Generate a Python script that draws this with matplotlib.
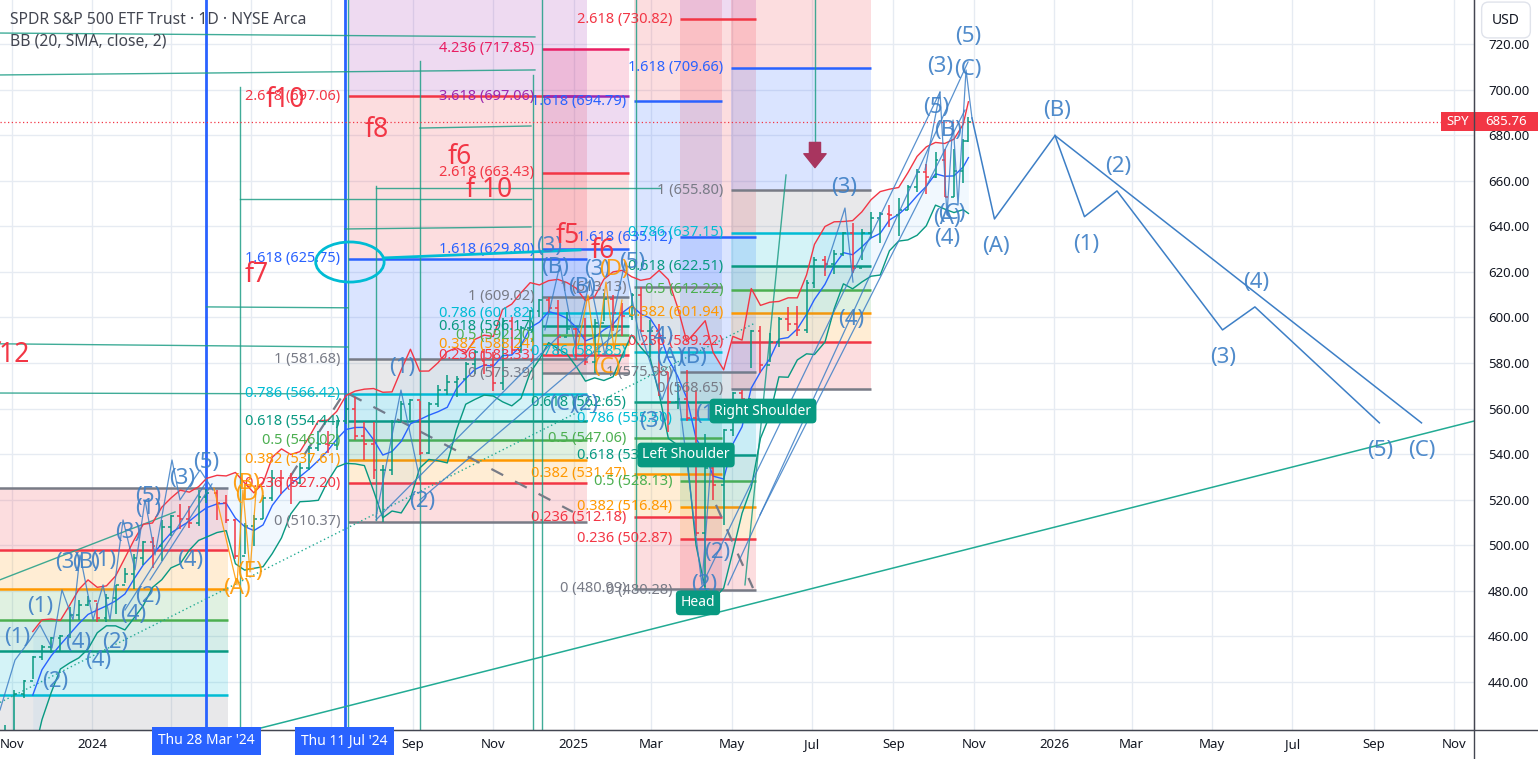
import matplotlib
matplotlib.use('Agg')
import matplotlib.pyplot as plt
import matplotlib.dates as mdates
from matplotlib.patches import Ellipse, Rectangle
import numpy as np
import pandas as pd

plt.rcParams['font.family'] = ['Noto Sans', 'DejaVu Sans']

# ---------------- price data (weekly) ----------------
week_dates = ['2023-10-27','2023-11-03','2023-11-10','2023-11-17','2023-11-24','2023-12-01','2023-12-08',
 '2023-12-15','2023-12-22','2023-12-29','2024-01-05','2024-01-12','2024-01-19','2024-01-26','2024-02-02',
 '2024-02-09','2024-02-16','2024-02-23','2024-03-01','2024-03-08','2024-03-15','2024-03-22','2024-03-28',
 '2024-04-05','2024-04-12','2024-04-19','2024-04-26','2024-05-03','2024-05-10','2024-05-17','2024-05-24',
 '2024-05-31','2024-06-07','2024-06-14','2024-06-21','2024-06-28','2024-07-05','2024-07-12','2024-07-19',
 '2024-07-26','2024-08-02','2024-08-09','2024-08-16','2024-08-23','2024-08-30','2024-09-06','2024-09-13',
 '2024-09-20','2024-09-27','2024-10-04','2024-10-11','2024-10-18','2024-10-25','2024-11-01','2024-11-08',
 '2024-11-15','2024-11-22','2024-11-29','2024-12-06','2024-12-13','2024-12-20','2024-12-27','2025-01-03',
 '2025-01-10','2025-01-17','2025-01-24','2025-01-31','2025-02-07','2025-02-14','2025-02-21','2025-02-28',
 '2025-03-07','2025-03-14','2025-03-21','2025-03-28','2025-04-04','2025-04-11','2025-04-17','2025-04-25',
 '2025-05-02','2025-05-09','2025-05-16','2025-05-23','2025-05-30','2025-06-06','2025-06-13','2025-06-20',
 '2025-06-27','2025-07-03','2025-07-11','2025-07-18','2025-07-25','2025-08-01','2025-08-08','2025-08-15',
 '2025-08-22','2025-08-29','2025-09-05','2025-09-12','2025-09-19','2025-09-26','2025-10-03','2025-10-10',
 '2025-10-17','2025-10-24','2025-10-28']
week_close = [410.7,434.7,440.6,450.8,455.3,459.1,460.2,469.3,473.7,475.3,467.9,476.7,482.4,487.4,494.4,
 501.2,499.5,507.9,512.9,511.7,509.8,521.2,523.1,518.4,510.9,495.2,508.3,511.3,520.8,529.5,529.4,
 527.4,534.0,542.8,544.5,544.2,554.6,559.9,548.0,544.4,532.9,533.0,554.3,562.1,563.7,540.4,562.0,
 568.3,571.5,573.0,579.6,584.6,579.0,571.0,598.2,585.8,595.5,602.6,607.8,604.2,591.2,595.0,592.0,
 580.5,597.6,608.0,601.8,600.8,609.7,594.0,594.2,575.9,562.8,564.0,555.7,505.3,533.9,526.4,550.6,
 566.8,564.3,594.2,579.1,589.4,599.1,597.0,594.3,614.9,625.3,623.6,627.6,637.1,621.7,637.2,643.4,
 645.3,645.1,647.2,657.4,663.7,661.8,669.2,653.0,664.4,677.3,685.8]
week_high = [421.0,436.3,440.9,451.4,456.4,459.6,460.7,473.0,475.9,477.6,474.6,478.6,482.7,490.0,496.0,
 502.0,503.5,511.0,513.3,518.2,517.3,524.1,524.6,524.4,522.0,511.7,509.9,513.3,522.2,533.1,533.1,
 531.5,536.0,543.4,550.3,550.3,555.0,564.7,565.2,554.1,554.0,535.0,555.0,563.2,564.2,563.2,563.0,
 570.4,574.7,574.1,580.3,585.8,586.1,584.6,599.6,600.2,596.1,603.4,608.0,609.1,607.8,602.5,595.4,
 599.8,599.4,610.8,610.0,606.4,610.5,613.2,599.0,597.3,576.0,570.9,577.0,568.0,548.6,539.7,551.0,
 567.3,568.2,594.5,596.1,593.0,600.0,604.5,605.0,616.4,626.3,626.9,629.5,637.6,641.5,638.6,646.2,
 646.3,649.5,652.2,658.0,665.0,667.3,672.7,673.9,673.9,678.4,688.0]
week_low = [409.2,416.3,433.0,441.4,449.8,452.8,453.6,459.4,467.1,473.2,466.4,466.4,469.7,483.3,481.0,
 491.4,490.2,493.0,504.0,507.0,507.4,508.5,518.4,511.0,509.7,493.9,496.0,499.6,511.3,519.5,522.7,
 518.3,526.8,532.8,541.5,540.6,541.6,553.0,546.3,537.5,529.0,510.3,531.0,553.9,555.0,539.5,540.0,
 560.8,566.0,564.9,567.0,575.0,575.0,567.9,568.1,583.8,584.5,594.0,600.2,602.0,583.0,592.7,581.5,
 578.9,575.4,598.4,594.0,592.0,599.0,593.7,582.4,565.6,549.7,559.8,554.7,504.0,481.8,520.0,509.0,
 548.0,557.0,578.0,575.6,580.5,586.9,594.0,591.9,593.0,613.0,618.1,619.0,627.0,619.3,625.0,634.7,
 632.8,639.7,635.5,647.0,655.0,654.2,661.0,652.8,653.0,659.0,677.0]
last_price = 685.76

# ---------------- axis labels ----------------
x_tick_days = [-61, 0, 60, 121, 182, 244, 305, 366, 425, 486, 547, 609, 670, 731, 790, 851, 912, 974, 1035]
x_tick_labels = ['Nov', '2024', '', '', '', 'Sep', 'Nov', '2025', 'Mar', 'May', 'Jul', 'Sep', 'Nov',
                 '2026', 'Mar', 'May', 'Jul', 'Sep', 'Nov']
y_ticks = list(range(440, 721, 20))
marker_dates = ['2024-03-28', '2024-07-11']
marker_labels = ["Thu 28 Mar '24", "Thu 11 Jul '24"]

# ---------------- fibonacci drawings (days since 2024-01-01) ----------------
STD = [0, 0.236, 0.382, 0.5, 0.618, 0.786, 1]
fibs = [
    dict(start=-120, end=103.3, p0=525.10, p1=409.60, levels=STD, labels=False),
    dict(start=194.5, end=376.1, p0=510.37, p1=581.68, levels=STD + [1.618, 2.618, 3.618], labels=True),
    dict(start=342.0, end=408.0, p0=575.39, p1=609.02, levels=STD + [1.618, 2.618, 3.618, 4.236], labels=True),
    dict(start=411.9, end=478.7, p0=480.99, p1=613.13, levels=STD + [1.618, 2.618], labels=True),
    dict(start=446.8, end=504.6, p0=480.28, p1=575.98, levels=STD + [1.618, 2.618, 3.618], labels=True),
    dict(start=485.6, end=592.0, p0=568.65, p1=655.80, levels=STD + [1.618, 2.618], labels=True),
]
FIB_COLORS = {0: '#787b86', 0.236: '#f23645', 0.382: '#ff9800', 0.5: '#4caf50', 0.618: '#089981',
              0.786: '#00bcd4', 1: '#787b86', 1.618: '#2962ff', 2.618: '#f23645', 3.618: '#9c27b0',
              4.236: '#e91e63'}

# ---------------- Elliott-wave projection ----------------
proj_ab_days = [668.7, 685.8, 731.8]
proj_ab_prices = [687.5, 643.2, 679.8]
proj_impulse_days = [731.8, 754.2, 778.9, 859.1, 883.7, 978.3]
proj_impulse_prices = [679.8, 644.2, 655.5, 594.5, 604.6, 553.7]
proj_c_days = [731.8, 1010.3]
proj_c_prices = [679.8, 553.7]

# wave drawings on price (day, price)
wave_paths = [
    [(-69.9, 427.7), (-58.5, 449.6), (-47.1, 458.4), (-39.5, 465.0), (-30.4, 454.9), (-22.8, 480.4),
     (-14.4, 467.2), (-9.1, 495.7), (0.8, 467.2), (8.4, 482.6), (13.7, 467.2), (23.6, 511.1),
     (32.7, 489.2), (40.3, 519.9), (47.9, 495.7), (60.8, 537.4), (66.9, 519.9), (82.1, 533.0), (92.0, 524.2)],
    [(25.1, 471.6), (85.9, 526.9)],
    [(44.1, 484.8), (91.2, 526.9)],
    [(215.8, 512.4), (234.8, 568.1), (249.2, 528.6)],
    [(215.8, 511.1), (355.6, 592.3)],
    [(249.2, 519.9), (401.2, 594.5)],
    [(344.2, 594.5), (355.6, 623.0), (367.0, 588.0), (378.4, 616.4), (389.8, 583.5), (405.0, 624.3), (416.4, 590.1)],
    [(416.4, 594.5), (433.1, 563.8), (443.0, 579.1), (463.5, 482.6), (471.1, 541.8)],
    [(464.3, 483.4), (644.4, 698.9)],
    [(483.3, 482.6), (665.7, 712.1)],
    [(507.6, 513.3), (663.4, 691.0)],
    [(557.0, 620.8), (572.2, 648.0), (578.3, 615.5)],
    [(633.0, 664.7), (644.4, 698.9), (649.7, 644.9), (654.3, 686.6), (658.1, 649.3), (664.2, 708.6), (668.7, 687.5)],
]
orange_paths = [
    [(92.7, 525.1), (110.2, 482.6), (114.7, 524.2), (120.1, 488.3), (124.6, 523.4)],
    [(369.3, 587.9), (376.9, 609.8), (383.0, 581.3), (390.6, 615.5), (396.7, 585.7), (402.7, 607.6)],
]
teal_segments = [
    [(-70, 724.8), (336.6, 723.1)], [(-70, 706.4), (336.6, 708.6)],
    [(112.5, 652.0), (333.6, 652.0)], [(192.0, 638.8), (333.6, 639.7)],
    [(215.8, 656.8), (431.6, 656.8)], [(249.2, 683.1), (333.6, 684.0)],
    [(87.0, 604.6), (194.5, 604.2)], [(-70, 588.4), (194.5, 587.0)], [(-70, 566.8), (194.5, 566.4)],
    [(-70, 484.8), (63.1, 514.6)],
    [(496.2, 482.6), (527.4, 662.5)],
    [(112.5, 701.1), (112.5, 418.9)], [(194.5, 739.3), (194.5, 418.9)], [(215.8, 657.7), (215.8, 511.1)],
    [(249.2, 712.5), (249.2, 418.9)], [(335.1, 706.4), (335.1, 418.9)], [(342.0, 739.3), (342.0, 418.9)],
    [(413.4, 739.3), (413.4, 481.0)], [(549.4, 739.3), (549.4, 677.0)],
]
trend_long = [(122.3, 418.9), (1050.2, 554.5)]
trend_dotted = [(-69.9, 431.0), (503.8, 597.5)]
dashed_paths = [[(150.5, 530.0), (192.2, 567.3), (365.5, 514.6)], [(474.2, 517.7), (502.3, 481.2)]]

blue_labels = [
    ('(A)', 687.0, 630.9), ('(B)', 733.3, 691.0), ('(1)', 755.3, 631.8), ('(2)', 779.6, 666.4),
    ('(3)', 859.4, 582.6), ('(4)', 884.5, 615.5), ('(5)', 978.7, 541.4), ('(C)', 1010.6, 541.4),
    ('(5)', 665.7, 723.1), ('(3)', 644.4, 709.9), ('(C)', 665.7, 709.0), ('(5)', 641.3, 692.3),
    ('(B)', 650.5, 682.2), ('(A)', 649.7, 643.6), ('(C)', 653.5, 645.8), ('(4)', 649.7, 634.8),
    ('(3)', 571.4, 657.2), ('(4)', 576.7, 598.9),
    ('(1)', 235.6, 578.2), ('(2)', 250.8, 519.4), ('(3)', 347.3, 630.9), ('(B)', 351.8, 621.7),
    ('(3)', 383.7, 620.8), ('(5)', 410.3, 624.3), ('(B)', 372.3, 612.9), ('(C)', 357.9, 561.6),
    ('(2)', 374.6, 561.6), ('(4)', 431.6, 591.4), ('(A)', 439.2, 582.6), ('(B)', 456.7, 582.6),
    ('(3)', 425.5, 554.1), ('(1)', 468.0, 557.2), ('(2)', 474.9, 497.0), ('(2)', 465.0, 482.6),
    ('(1)', -57.0, 459.3), ('(1)', -39.5, 473.3), ('(2)', -28.1, 440.4), ('(4)', -10.6, 457.1),
    ('(4)', 4.6, 449.2), ('(2)', 17.5, 457.5), ('(4)', 31.2, 469.4), ('(2)', 42.6, 477.3),
    ('(3)', -18.2, 492.2), ('(B)', -4.6, 492.2), ('(1)', 8.4, 493.5), ('(3)', 27.4, 505.8),
    ('(1)', 42.6, 515.9), ('(5)', 42.6, 521.2), ('(3)', 68.4, 529.5), ('(5)', 86.6, 536.1),
    ('(4)', 74.5, 493.5),
]
orange_labels = [('(B)', 117.0, 527.3), ('(D)', 120.0, 522.1), ('(E)', 120.0, 488.3), ('(A)', 110.2, 480.8),
                 ('(D)', 396.7, 620.8), ('(C)', 391.3, 578.2)]
red_labels = [('f10', 146.7, 695.4), ('f8', 216.6, 682.2), ('f6', 279.6, 670.4), ('f 10', 301.7, 655.9),
              ('f5', 361.7, 635.7), ('f6', 388.3, 629.1), ('f7', 125.4, 618.6)]
pattern_labels = [('Left Shoulder', 451.4, 539.6), ('Right Shoulder', 509.9, 558.9), ('Head', 460.5, 474.7)]

# ---------------- figure ----------------
W, H = 1538, 759
fig = plt.figure(figsize=(W / 100, H / 100), dpi=100)
ax = fig.add_axes([0, 29 / H, 1474 / W, 730 / H])
BASE = mdates.datestr2num('2024-01-01')
X = lambda d: BASE + d
YMIN, YMAX = 418.9, 739.3

ax.set_xlim(X(-69.9), X(1050.2))
ax.set_ylim(YMIN, YMAX)

# grid
for d in x_tick_days:
    ax.axvline(X(d), color='#e6ebf2', lw=1, zorder=0)
for y in y_ticks:
    ax.axhline(y, color='#e6ebf2', lw=1, zorder=0)

# fibs
for f in fibs:
    x0, x1 = X(f['start']), X(f['end'])
    lv = f['levels']
    pr = [f['p0'] + r * (f['p1'] - f['p0']) for r in lv]
    for i in range(1, len(lv)):
        ax.fill_between([x0, x1], pr[i - 1], pr[i], color=FIB_COLORS[lv[i]], alpha=0.17, lw=0, zorder=1)
    for r, p in zip(lv, pr):
        ax.plot([x0, x1], [p, p], color=FIB_COLORS[r], lw=1.8, zorder=2, solid_capstyle='butt')
        if f['labels'] and YMIN + 4 < p < YMAX - 4:
            ax.text(x0 - 6, p, f"{r:g} ({p:.2f})", ha='right', va='center', color=FIB_COLORS[r],
                    fontsize=10.5, clip_on=True, zorder=6)

# marker vertical lines
for md in marker_dates:
    ax.axvline(mdates.datestr2num(md), color='#2962ff', lw=2, zorder=3)

# teal drawings
for seg in teal_segments:
    xs = [X(p[0]) for p in seg]; ys = [p[1] for p in seg]
    ax.plot(xs, ys, color='#1e9e86', lw=1.0, alpha=0.85, zorder=3)
ax.plot([X(p[0]) for p in trend_long], [p[1] for p in trend_long], color='#22ab94', lw=1.1, zorder=3)
ax.plot([X(p[0]) for p in trend_dotted], [p[1] for p in trend_dotted], color='#22ab94', lw=1.0,
        ls=(0, (1, 2)), zorder=3)
for pth in dashed_paths:
    ax.plot([X(p[0]) for p in pth], [p[1] for p in pth], color='#787b86', lw=1.6, ls=(0, (6, 6)), zorder=3)

# Bollinger bands (20-day window ~ 4 weekly bars; dispersion from the bars' high/low/close)
xd = np.array([mdates.datestr2num(d) for d in week_dates])
cl_a = np.array(week_close); hi_a = np.array(week_high); lo_a = np.array(week_low)
mid = pd.Series(cl_a).rolling(4).mean().to_numpy()
sd = np.full(len(cl_a), np.nan)
for i in range(3, len(cl_a)):
    vals = np.concatenate([hi_a[i - 3:i + 1], lo_a[i - 3:i + 1], cl_a[i - 3:i + 1]])
    sd[i] = vals.std()
up = mid + 2 * sd
lo = mid - 2 * sd
ax.fill_between(xd, lo, up, color='#2196f3', alpha=0.06, lw=0, zorder=3)
ax.plot(xd, up, color='#f23645', lw=1.0, zorder=4)
ax.plot(xd, mid, color='#2962ff', lw=1.0, zorder=4)
ax.plot(xd, lo, color='#089981', lw=1.0, zorder=4)

# OHLC bars
op_a = np.concatenate([[cl_a[0]], cl_a[:-1]])
cols = np.where(cl_a >= op_a, '#089981', '#f23645')
ax.vlines(xd, lo_a, hi_a, colors=cols, lw=1.1, zorder=5)
ax.hlines(op_a, xd - 2.2, xd, colors=cols, lw=1.1, zorder=5)
ax.hlines(cl_a, xd, xd + 2.2, colors=cols, lw=1.1, zorder=5)

# wave drawings
WAVE = '#3d7fc6'
for pth in wave_paths:
    ax.plot([X(p[0]) for p in pth], [p[1] for p in pth], color=WAVE, lw=0.9, alpha=0.85, zorder=6)
for pth in orange_paths:
    ax.plot([X(p[0]) for p in pth], [p[1] for p in pth], color='#ff9800', lw=0.9, alpha=0.85, zorder=6)
ax.plot([X(d) for d in proj_ab_days], proj_ab_prices, color=WAVE, lw=1.1, zorder=6)
ax.plot([X(d) for d in proj_impulse_days], proj_impulse_prices, color=WAVE, lw=1.1, zorder=6)
ax.plot([X(d) for d in proj_c_days], proj_c_prices, color=WAVE, lw=1.1, zorder=6)

# cyan hand-drawn loop
ax.add_patch(Ellipse((X(196), 624.3), 52, 17.6, fill=False, ec='#00bcd4', lw=2, zorder=6))
ax.plot([X(221.9), X(370.8)], [626.1, 629.6], color='#00bcd4', lw=2, zorder=6)

# arrow
ax.annotate('', xy=(X(549.4), 664.5), xytext=(X(549.4), 678.0),
            arrowprops=dict(arrowstyle='simple,head_width=1.6,head_length=1.0,tail_width=0.8',
                            fc='#a8355f', ec='#a8355f'), zorder=7)

# labels
for t, d, p in blue_labels:
    ax.text(X(d), p, t, color=WAVE, alpha=0.9, fontsize=16, ha='center', va='center', zorder=7, clip_on=True)
for t, d, p in orange_labels:
    ax.text(X(d), p, t, color='#ff9800', alpha=0.9, fontsize=16, ha='center', va='center', zorder=7)
for t, d, p in red_labels:
    ax.text(X(d), p, t, color='#f23645', fontsize=19, ha='center', va='center', zorder=7)
ax.text(X(-47.1), 583.5, 'f12', color='#f23645', fontsize=19, ha='right', va='center', zorder=7, clip_on=True)
for t, d, p in pattern_labels:
    ax.text(X(d), p, t, color='white', fontsize=10, ha='center', va='center', zorder=8,
            bbox=dict(boxstyle='round,pad=0.35,rounding_size=0.3', fc='#089981', ec='none'))

# current price line
ax.axhline(last_price, color='#f23645', lw=0.9, ls=(0, (1, 2)), zorder=6)

# axes styling
ax.set_facecolor('white')
for s in ['left', 'top']:
    ax.spines[s].set_visible(False)
ax.spines['right'].set_color('#434651')
ax.spines['bottom'].set_color('#434651')
ax.yaxis.tick_right()
ax.set_yticks(y_ticks)
ax.set_yticklabels([f"{v:.2f}" for v in y_ticks])
ax.tick_params(axis='y', length=0, pad=10, labelsize=9.5, labelcolor='#131722')
ax.set_xticks([X(d) for d in x_tick_days])
ax.set_xticklabels(x_tick_labels)
ax.tick_params(axis='x', length=0, pad=6, labelsize=9.5, labelcolor='#131722')
for lab in ax.get_xticklabels():
    if lab.get_text() in ('2024', '2025', '2026'):
        lab.set_fontweight('bold')

# figure-level lines extending axes borders
fig.add_artist(plt.Line2D([1474 / W, 1474 / W], [0, 1], color='#434651', lw=1))
fig.add_artist(plt.Line2D([0, 1], [29 / H, 29 / H], color='#434651', lw=1))

# date marker boxes
for md, ml in zip(marker_dates, marker_labels):
    xpix = 92 + (mdates.datestr2num(md) - BASE) * 1.316
    fig.text(xpix / W, 1 - 741 / H, ml, color='white', fontsize=10, ha='center', va='center',
             bbox=dict(boxstyle='square,pad=0.45', fc='#2962ff', ec='none'))

# header texts
fig.text(10 / W, 1 - 20 / H, 'SPDR S&P 500 ETF Trust · 1D · NYSE Arca', fontsize=11.3, fontweight='bold',
         color='#434651', va='center', ha='left')
fig.text(10 / W, 1 - 42 / H, 'BB (20, SMA, close, 2)', fontsize=11.3, color='#434651', va='center', ha='left')
fig.text(1506 / W, 1 - 20 / H, 'USD', fontsize=10, color='#131722', va='center', ha='center',
         bbox=dict(boxstyle='round,pad=0.75,rounding_size=0.5', fc='white', ec='#e0e3eb'))

# price tag
fig.add_artist(Rectangle((1441 / W, 1 - 131 / H), 33 / W, 19 / H, transform=fig.transFigure,
                         fc='#f23645', ec='none'))
fig.add_artist(Rectangle((1475 / W, 1 - 131 / H), 63 / W, 19 / H, transform=fig.transFigure,
                         fc='#f23645', ec='none'))
fig.text(1457.5 / W, 1 - 121.5 / H, 'SPY', color='white', fontsize=9.5, ha='center', va='center')
fig.text(1506 / W, 1 - 121.5 / H, f"{last_price:.2f}", color='white', fontsize=9.5, ha='center', va='center')

fig.savefig('out.png', dpi=100)
